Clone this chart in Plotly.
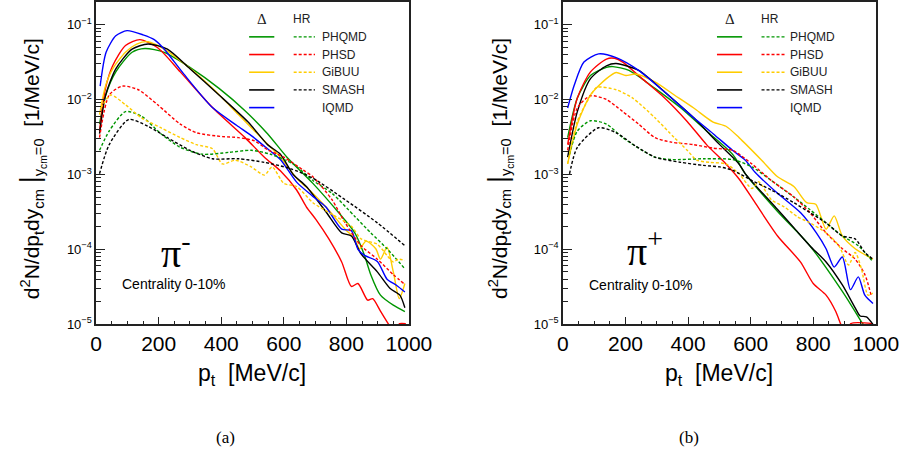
import plotly.graph_objects as go

# ---------------- pi- (panel a) ----------------
pim_x_iqmd = [13, 32, 63, 99, 150, 186, 218, 280, 372, 450, 496, 540, 589, 641, 693, 734, 785, 816, 837, 858, 899, 930, 961, 987]
pim_y_iqmd = [0.0151, 0.0427, 0.0708, 0.083, 0.073, 0.063, 0.047, 0.022, 0.0078, 0.0045, 0.0033, 0.00234, 0.00158, 0.00079, 0.00051, 0.00037, 0.000186, 0.000178, 0.0001, 8.3e-5, 6.9e-5, 4.0e-5, 3.3e-5, 2.7e-5]

pim_x_phsd_d = [11, 30, 53, 94, 140, 197, 269, 372, 476, 538, 589, 641, 672, 703, 744, 785, 816, 837, 868, 884, 909, 935, 950, 970, 990]
pim_y_phsd_d = [0.0038, 0.0141, 0.0282, 0.0525, 0.063, 0.049, 0.0234, 0.0078, 0.0031, 0.0017, 0.00112, 0.00062, 0.00037, 0.00025, 0.000138, 6.8e-5, 3.2e-5, 3.5e-5, 2.1e-5, 2.2e-5, 1.5e-5, 1.0e-5, 8e-6, 1.02e-5, 1.02e-5]

pim_x_gibuu_d = [11, 30, 53, 94, 130, 166, 218, 290, 372, 455, 538, 589, 641, 682, 734, 796, 827, 842, 863, 894, 909, 930, 950, 969, 987]
pim_y_gibuu_d = [0.0063, 0.0151, 0.0257, 0.0427, 0.055, 0.059, 0.047, 0.0282, 0.0141, 0.0063, 0.0028, 0.0017, 0.00089, 0.00062, 0.00037, 0.000186, 0.000138, 0.000102, 0.000129, 0.000102, 7.4e-5, 0.000107, 5.0e-5, 2.2e-5, 3.5e-5]

pim_x_smash_d = [11, 30, 63, 115, 166, 228, 300, 393, 486, 548, 589, 630, 672, 734, 785, 816, 847, 899, 940, 971, 987]
pim_y_smash_d = [0.0035, 0.0112, 0.0257, 0.047, 0.055, 0.047, 0.0257, 0.0115, 0.005, 0.0025, 0.00186, 0.001, 0.00069, 0.00032, 0.000166, 0.000151, 8.7e-5, 5.0e-5, 3.0e-5, 2.45e-5, 1.66e-5]

pim_x_phqmd_d = [11, 30, 63, 115, 156, 218, 300, 393, 476, 548, 610, 693, 775, 827, 858, 878, 909, 950, 987]
pim_y_phqmd_d = [0.0047, 0.0112, 0.0234, 0.0427, 0.048, 0.0427, 0.0269, 0.0141, 0.0071, 0.0035, 0.0017, 0.00076, 0.00031, 0.000166, 8.3e-5, 4.6e-5, 2.45e-5, 1.8e-5, 1.48e-5]

pim_x_phsd_hr = [11, 42, 84, 135, 197, 269, 321, 404, 455, 507, 548, 600, 661, 693, 754, 796, 847, 899, 950, 987]
pim_y_phsd_hr = [0.0031, 0.0115, 0.0151, 0.0135, 0.0085, 0.0047, 0.0036, 0.0032, 0.0031, 0.0028, 0.00214, 0.0017, 0.00115, 0.00093, 0.00046, 0.000226, 0.000112, 7.4e-5, 4.6e-5, 3.4e-5]

pim_x_phqmd_hr = [11, 42, 94, 145, 207, 269, 341, 424, 496, 558, 630, 693, 754, 827, 878, 930, 987]
pim_y_phqmd_hr = [0.0021, 0.0038, 0.0069, 0.006, 0.0035, 0.0023, 0.00186, 0.00197, 0.0021, 0.00186, 0.00138, 0.00083, 0.00056, 0.000275, 0.000166, 0.000102, 5.5e-5]

pim_x_smash_hr = [11, 42, 104, 166, 228, 300, 372, 455, 538, 620, 693, 796, 899, 987]
pim_y_smash_hr = [0.00102, 0.0025, 0.0054, 0.0044, 0.0031, 0.0021, 0.00162, 0.00162, 0.00145, 0.0012, 0.00089, 0.00046, 0.000226, 0.000112]

pim_x_gibuu_hr = [16, 47, 94, 145, 207, 269, 321, 372, 404, 445, 496, 538, 563, 600, 641, 693, 744, 816, 847, 899, 930, 950, 966, 987]
pim_y_gibuu_hr = [0.0077, 0.0115, 0.0085, 0.0057, 0.0042, 0.0031, 0.0025, 0.0022, 0.00138, 0.00155, 0.00126, 0.00098, 0.00126, 0.00076, 0.00069, 0.00042, 0.00031, 0.000204, 0.000138, 0.000117, 8.3e-5, 6.8e-5, 7.4e-5, 7.1e-5]

# ---------------- pi+ (panel b) ----------------
pip_x_iqmd = [15, 36, 67, 114, 170, 242, 325, 418, 480, 542, 583, 614, 686, 759, 810, 841, 867, 893, 919, 944, 965, 991]
pip_y_iqmd = [0.0077, 0.0155, 0.0316, 0.0407, 0.0363, 0.0245, 0.0126, 0.0057, 0.0035, 0.0021, 0.00155, 0.00107, 0.00056, 0.00031, 0.000166, 0.000102, 5.8e-5, 7.9e-5, 2.9e-5, 4.3e-5, 2.45e-5, 1.9e-5]

pip_x_phsd_d = [15, 46, 88, 139, 165, 191, 253, 325, 397, 459, 521, 563, 614, 686, 759, 800, 841, 872, 888, 905, 920, 990]
pip_y_phsd_d = [0.0025, 0.0105, 0.0234, 0.0347, 0.0355, 0.0316, 0.019, 0.0105, 0.0051, 0.0025, 0.00138, 0.00087, 0.00042, 0.000151, 6.8e-5, 3.5e-5, 2.45e-5, 1.48e-5, 1.0e-5, 7e-6, 1.02e-5, 1.02e-5]

pip_x_gibuu_d = [15, 46, 88, 139, 170, 201, 232, 294, 356, 418, 480, 521, 563, 635, 686, 738, 779, 808, 841, 867, 893, 934, 991]
pip_y_gibuu_d = [0.00138, 0.0047, 0.0115, 0.019, 0.0229, 0.0209, 0.0219, 0.0172, 0.0115, 0.0077, 0.005, 0.0044, 0.0031, 0.00155, 0.00093, 0.00069, 0.00042, 0.0004, 0.000186, 0.00028, 0.000151, 0.000102, 7.4e-5]

pip_x_smash_d = [15, 46, 88, 139, 170, 242, 325, 418, 501, 563, 583, 686, 738, 789, 841, 893, 934, 950, 970, 991]
pip_y_smash_d = [0.0017, 0.0069, 0.019, 0.0282, 0.0302, 0.0245, 0.0126, 0.0057, 0.0025, 0.00138, 0.00102, 0.00034, 0.000195, 0.000112, 6.8e-5, 3.35e-5, 1.66e-5, 1.29e-5, 1.26e-5, 1.0e-5]

pip_x_phqmd_d = [15, 46, 88, 139, 160, 211, 294, 377, 459, 542, 583, 686, 789, 893, 934, 960, 990]
pip_y_phqmd_d = [0.0031, 0.0105, 0.0209, 0.0269, 0.0275, 0.0245, 0.0141, 0.0077, 0.0038, 0.00186, 0.00102, 0.00032, 0.000112, 2.75e-5, 1.48e-5, 1.0e-5, 8e-6]

pip_x_phsd_hr = [15, 46, 88, 139, 191, 242, 294, 346, 418, 480, 542, 604, 666, 738, 789, 841, 893, 934, 965, 985]
pip_y_phsd_hr = [0.0021, 0.0077, 0.0112, 0.01, 0.0069, 0.0047, 0.0031, 0.0027, 0.0025, 0.00224, 0.0021, 0.00138, 0.00083, 0.0005, 0.00031, 0.000166, 0.000102, 7.4e-5, 4.6e-5, 2.45e-5]

pip_x_phqmd_hr = [21, 46, 88, 139, 191, 253, 294, 346, 449, 542, 604, 666, 738, 789, 841, 893, 944, 991]
pip_y_phqmd_hr = [0.00186, 0.0038, 0.0052, 0.0047, 0.0031, 0.0021, 0.0017, 0.00158, 0.00162, 0.00158, 0.00126, 0.00083, 0.0005, 0.00034, 0.000226, 0.000151, 0.000112, 6.8e-5]

pip_x_smash_hr = [21, 46, 114, 170, 232, 294, 377, 449, 501, 542, 604, 666, 738, 789, 841, 893, 934, 965, 991]
pip_y_smash_hr = [0.00102, 0.0023, 0.0042, 0.0036, 0.0024, 0.0017, 0.00145, 0.00132, 0.00126, 0.00114, 0.00083, 0.00062, 0.00042, 0.00031, 0.000226, 0.000151, 0.000138, 9.1e-5, 7.4e-5]

pip_x_gibuu_hr = [15, 45, 84, 108, 170, 222, 294, 356, 397, 428, 470, 521, 563, 604, 625, 666, 707, 748, 789, 841, 882, 913, 934, 954, 975, 990]
pip_y_gibuu_hr = [0.00138, 0.005, 0.0105, 0.0145, 0.0135, 0.0105, 0.0057, 0.0031, 0.0021, 0.00155, 0.00145, 0.00138, 0.00102, 0.00065, 0.0008, 0.00046, 0.00037, 0.000275, 0.000226, 0.000166, 0.000112, 6.2e-5, 9.1e-5, 5.5e-5, 2.45e-5, 2.6e-5]

models = ["PHQMD", "PHSD", "GiBUU", "SMASH", "IQMD"]
colors = {"PHQMD": "#009600", "PHSD": "#ff0000", "GiBUU": "#ffcc00", "SMASH": "#000000", "IQMD": "#0000ff"}

x_tickvals = [0, 200, 400, 600, 800, 1000]
y_tickvals = [1e-5, 1e-4, 1e-3, 1e-2, 1e-1]
y_ticktext = ["10<sup>\u22125</sup>", "10<sup>\u22124</sup>", "10<sup>\u22123</sup>", "10<sup>\u22122</sup>", "10<sup>\u22121</sup>"]
y_minor = [k * 10.0 ** e for e in range(-5, 0) for k in range(2, 10)] + [0.2]

W, H = 924, 463
FONT = "Liberation Sans, Arial, sans-serif"
SERIF = "Liberation Serif, Times New Roman, serif"

fig = go.Figure()

panels = [
    ("x", "y", [
        ("PHQMD", "solid", pim_x_phqmd_d, pim_y_phqmd_d),
        ("PHSD", "solid", pim_x_phsd_d, pim_y_phsd_d),
        ("GiBUU", "solid", pim_x_gibuu_d, pim_y_gibuu_d),
        ("SMASH", "solid", pim_x_smash_d, pim_y_smash_d),
        ("IQMD", "solid", pim_x_iqmd, pim_y_iqmd),
        ("PHQMD", "dash", pim_x_phqmd_hr, pim_y_phqmd_hr),
        ("PHSD", "dash", pim_x_phsd_hr, pim_y_phsd_hr),
        ("GiBUU", "dash", pim_x_gibuu_hr, pim_y_gibuu_hr),
        ("SMASH", "dash", pim_x_smash_hr, pim_y_smash_hr),
    ]),
    ("x2", "y2", [
        ("PHQMD", "solid", pip_x_phqmd_d, pip_y_phqmd_d),
        ("PHSD", "solid", pip_x_phsd_d, pip_y_phsd_d),
        ("GiBUU", "solid", pip_x_gibuu_d, pip_y_gibuu_d),
        ("SMASH", "solid", pip_x_smash_d, pip_y_smash_d),
        ("IQMD", "solid", pip_x_iqmd, pip_y_iqmd),
        ("PHQMD", "dash", pip_x_phqmd_hr, pip_y_phqmd_hr),
        ("PHSD", "dash", pip_x_phsd_hr, pip_y_phsd_hr),
        ("GiBUU", "dash", pip_x_gibuu_hr, pip_y_gibuu_hr),
        ("SMASH", "dash", pip_x_smash_hr, pip_y_smash_hr),
    ]),
]

for xa, ya, series in panels:
    for name, style, xs, ys in series:
        fig.add_trace(go.Scatter(
            x=xs, y=ys, mode="lines", xaxis=xa, yaxis=ya,
            name=name + (" \u0394" if style == "solid" else " HR"),
            line=dict(color=colors[name], width=1.4,
                      dash="solid" if style == "solid" else "3px,2px",
                      shape="spline", smoothing=0.7),
            showlegend=False))

def px_x(p):
    return p / W

def px_y(p):
    return 1 - p / H

ydom = [px_y(330), px_y(2)]
xdoms = [[px_x(93), px_x(416)], [px_x(575), px_x(898)]]

axis_common = dict(showline=True, mirror=True, linecolor="#222222", linewidth=1.5,
                   showgrid=False, zeroline=False, ticks="inside", tickcolor="#222222")

for i, xd in enumerate(xdoms):
    sx = "" if i == 0 else "2"
    fig.layout["xaxis" + sx] = dict(
        axis_common, domain=xd, range=[0, 1000], tickvals=x_tickvals, ticklen=8,
        tickfont=dict(family=FONT, size=21, color="black"),
        minor=dict(dtick=50, tick0=0, ticks="inside", ticklen=4, tickcolor="#222222"),
        anchor="y" + sx)
    fig.layout["yaxis" + sx] = dict(
        axis_common, domain=ydom, type="log", range=[-5, -0.698],
        tickvals=y_tickvals, ticktext=y_ticktext, ticklen=9,
        tickfont=dict(family=FONT, size=13, color="black"),
        minor=dict(tickvals=y_minor, ticks="inside", ticklen=5, tickcolor="#222222"),
        anchor="x" + sx)

annotations = []
shapes = []

ytitle = ("d<sup>2</sup>N/dp<sub>t</sub>dy<sub>cm</sub> "
          "<span style='font-size:27px'>|</span><sub>y<sub>cm</sub>=0</sub>  [1/MeV/c]")

panel_px = [
    dict(ytx=26, xtc=254, pi=(175, 255, "\u03c0<sup>-</sup>"), cen=(173, 289), cap=(227, "(a)"),
         delta=264, hr=306, solid=(251, 277), dash=(297, 319), lab=324),
    dict(ytx=509, xtc=736, pi=(660, 253, "\u03c0<sup>+</sup>"), cen=(656, 290), cap=(705, "(b)"),
         delta=747, hr=789, solid=(734, 760), dash=(780, 804), lab=807),
]

rows_y = [37.5, 55.5, 73.5, 91.5, 109.5]

for P in panel_px:
    annotations.append(dict(x=px_x(P["ytx"]), y=px_y(172), xref="paper", yref="paper",
                            text=ytitle, textangle=-90, showarrow=False,
                            xanchor="center", yanchor="middle",
                            font=dict(family=FONT, size=21, color="black")))
    annotations.append(dict(x=px_x(P["xtc"]), y=px_y(381), xref="paper", yref="paper",
                            text="p<sub>t</sub>\u00a0\u00a0[MeV/c]", showarrow=False,
                            xanchor="center", yanchor="middle",
                            font=dict(family=FONT, size=23, color="black")))
    px_, py_, t = P["pi"]
    annotations.append(dict(x=px_x(px_), y=px_y(py_), xref="paper", yref="paper",
                            text=t, showarrow=False, xanchor="center", yanchor="middle",
                            font=dict(family=SERIF, size=40, color="black")))
    annotations.append(dict(x=px_x(P["cen"][0]), y=px_y(P["cen"][1]), xref="paper", yref="paper",
                            text="Centrality 0-10%", showarrow=False, xanchor="center",
                            yanchor="middle", font=dict(family=FONT, size=14, color="black")))
    annotations.append(dict(x=px_x(P["cap"][0]), y=px_y(445), xref="paper", yref="paper",
                            text=P["cap"][1], showarrow=False, xanchor="center", yanchor="middle",
                            font=dict(family=SERIF, size=17, color="black")))
    annotations.append(dict(x=px_x(P["delta"]), y=px_y(19), xref="paper", yref="paper",
                            text="\u0394", showarrow=False, xanchor="center", yanchor="middle",
                            font=dict(family=SERIF, size=15, color="#222222")))
    annotations.append(dict(x=px_x(P["hr"]), y=px_y(19), xref="paper", yref="paper",
                            text="HR", showarrow=False, xanchor="center", yanchor="middle",
                            font=dict(family=FONT, size=12, color="#222222")))
    for name, ry in zip(models, rows_y):
        shapes.append(dict(type="line", xref="paper", yref="paper",
                           x0=px_x(P["solid"][0]), x1=px_x(P["solid"][1]),
                           y0=px_y(ry), y1=px_y(ry),
                           line=dict(color=colors[name], width=1.6)))
        if name != "IQMD":
            shapes.append(dict(type="line", xref="paper", yref="paper",
                               x0=px_x(P["dash"][0]), x1=px_x(P["dash"][1]),
                               y0=px_y(ry), y1=px_y(ry),
                               line=dict(color=colors[name], width=1.4, dash="3px,2px")))
        annotations.append(dict(x=px_x(P["lab"]), y=px_y(ry), xref="paper", yref="paper",
                                text=name, showarrow=False, xanchor="left", yanchor="middle",
                                font=dict(family=FONT, size=12, color="#222222")))

fig.update_layout(width=W, height=H, margin=dict(l=0, r=0, t=0, b=0),
                  paper_bgcolor="white", plot_bgcolor="white",
                  annotations=annotations, shapes=shapes, showlegend=False)

fig.write_html("out.html")
